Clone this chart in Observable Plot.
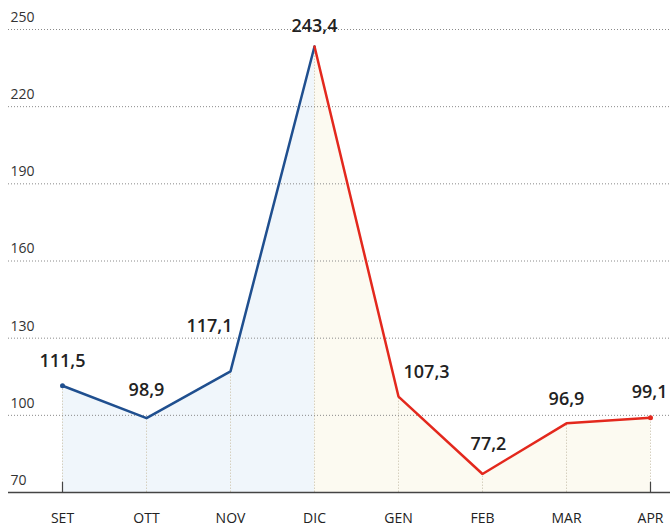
<!DOCTYPE html>
<html>
<head>
<meta charset="utf-8">
<script src="https://cdn.jsdelivr.net/npm/d3@7"></script>
<script src="https://cdn.jsdelivr.net/npm/@observablehq/plot@0.6"></script>
<style>
  html, body { margin: 0; padding: 0; background: #fff; }
  #chart svg { display: block; }
</style>
</head>
<body>
<div id="chart"></div>
<script>
const months = ["SET", "OTT", "NOV", "DIC", "GEN", "FEB", "MAR", "APR"];
const values = [111.5, 98.9, 117.1, 243.4, 107.3, 77.2, 96.9, 99.1];
const yTicks = [70, 100, 130, 160, 190, 220, 250];
const blueMonths = ["SET", "OTT", "NOV", "DIC"];
const redMonths = ["DIC", "GEN", "FEB", "MAR", "APR"];

// label layout (not data)
const labelLayout = {
  SET: {dx: 0, dy: -25, anchor: "middle"},
  OTT: {dx: 0, dy: -28, anchor: "middle"},
  NOV: {dx: 2, dy: -45, anchor: "end"},
  DIC: {dx: 0, dy: -20, anchor: "middle"},
  GEN: {dx: 5, dy: -24, anchor: "start"},
  FEB: {dx: 6, dy: -30, anchor: "middle"},
  MAR: {dx: 0, dy: -24, anchor: "middle"},
  APR: {dx: 17, dy: -25, anchor: "end"}
};

const data = months.map((m, i) => ({month: m, value: values[i]}));
const blue = data.filter(d => blueMonths.includes(d.month));
const red = data.filter(d => redMonths.includes(d.month));
const fmt = v => v.toFixed(1).replace(".", ",");

const font = "'Open Sans', 'DejaVu Sans', sans-serif";

const labelMarks = ["start", "middle", "end"].map(anchor =>
  data.filter(d => labelLayout[d.month].anchor === anchor).map(d =>
    Plot.text([d], {
      x: "month", y: "value", text: d => fmt(d.value),
      dx: labelLayout[d.month].dx, dy: labelLayout[d.month].dy,
      textAnchor: anchor, fontSize: 18, fontWeight: 600, fill: "#222"
    })
  )
).flat();

const chart = Plot.plot({
  width: 670,
  height: 526,
  marginLeft: 8,
  marginRight: 0,
  marginTop: 29,
  marginBottom: 34,
  style: {fontFamily: font, background: "#fff"},
  x: {type: "point", domain: months, range: [60, 652], padding: 0, axis: null},
  y: {domain: [70, 250], axis: null},
  marks: [
    Plot.areaY(blue, {x: "month", y1: 70, y2: "value", fill: "#f0f6fb"}),
    Plot.areaY(red, {x: "month", y1: 70, y2: "value", fill: "#fcfaf1"}),
    Plot.ruleX(data, {x: "month", y1: 70, y2: "value", stroke: "#d6d0bf", strokeWidth: 1, strokeDasharray: "1.5,1.5"}),
    Plot.ruleY(yTicks.filter(t => t > 70), {y: d => d, stroke: "#8a8a8a", strokeWidth: 1, strokeDasharray: "1,2"}),
    Plot.ruleY([70], {stroke: "#444", strokeWidth: 1.5}),
    Plot.text(yTicks, {y: d => d, text: d => String(d), frameAnchor: "left", textAnchor: "start", dy: -12, dx: 2, fontSize: 14, fill: "#333"}),
    Plot.line(blue, {x: "month", y: "value", stroke: "#1f4f8f", strokeWidth: 2.5, strokeLinejoin: "miter"}),
    Plot.line(red, {x: "month", y: "value", stroke: "#e3281d", strokeWidth: 2.5, strokeLinejoin: "miter"}),
    Plot.dot([data[0]], {x: "month", y: "value", r: 2.5, fill: "#1f4f8f"}),
    Plot.dot([data[data.length - 1]], {x: "month", y: "value", r: 2.5, fill: "#e3281d"}),
    Plot.ruleX(["SET", "APR"], {x: d => d, y1: 70, y2: 74, stroke: "#444", strokeWidth: 1.2}),
    Plot.text(months, {x: d => d, y: 70, text: d => d, dy: 26, fontSize: 14, fill: "#222"}),
    ...labelMarks
  ]
});

document.getElementById("chart").appendChild(chart);
</script>
</body>
</html>
